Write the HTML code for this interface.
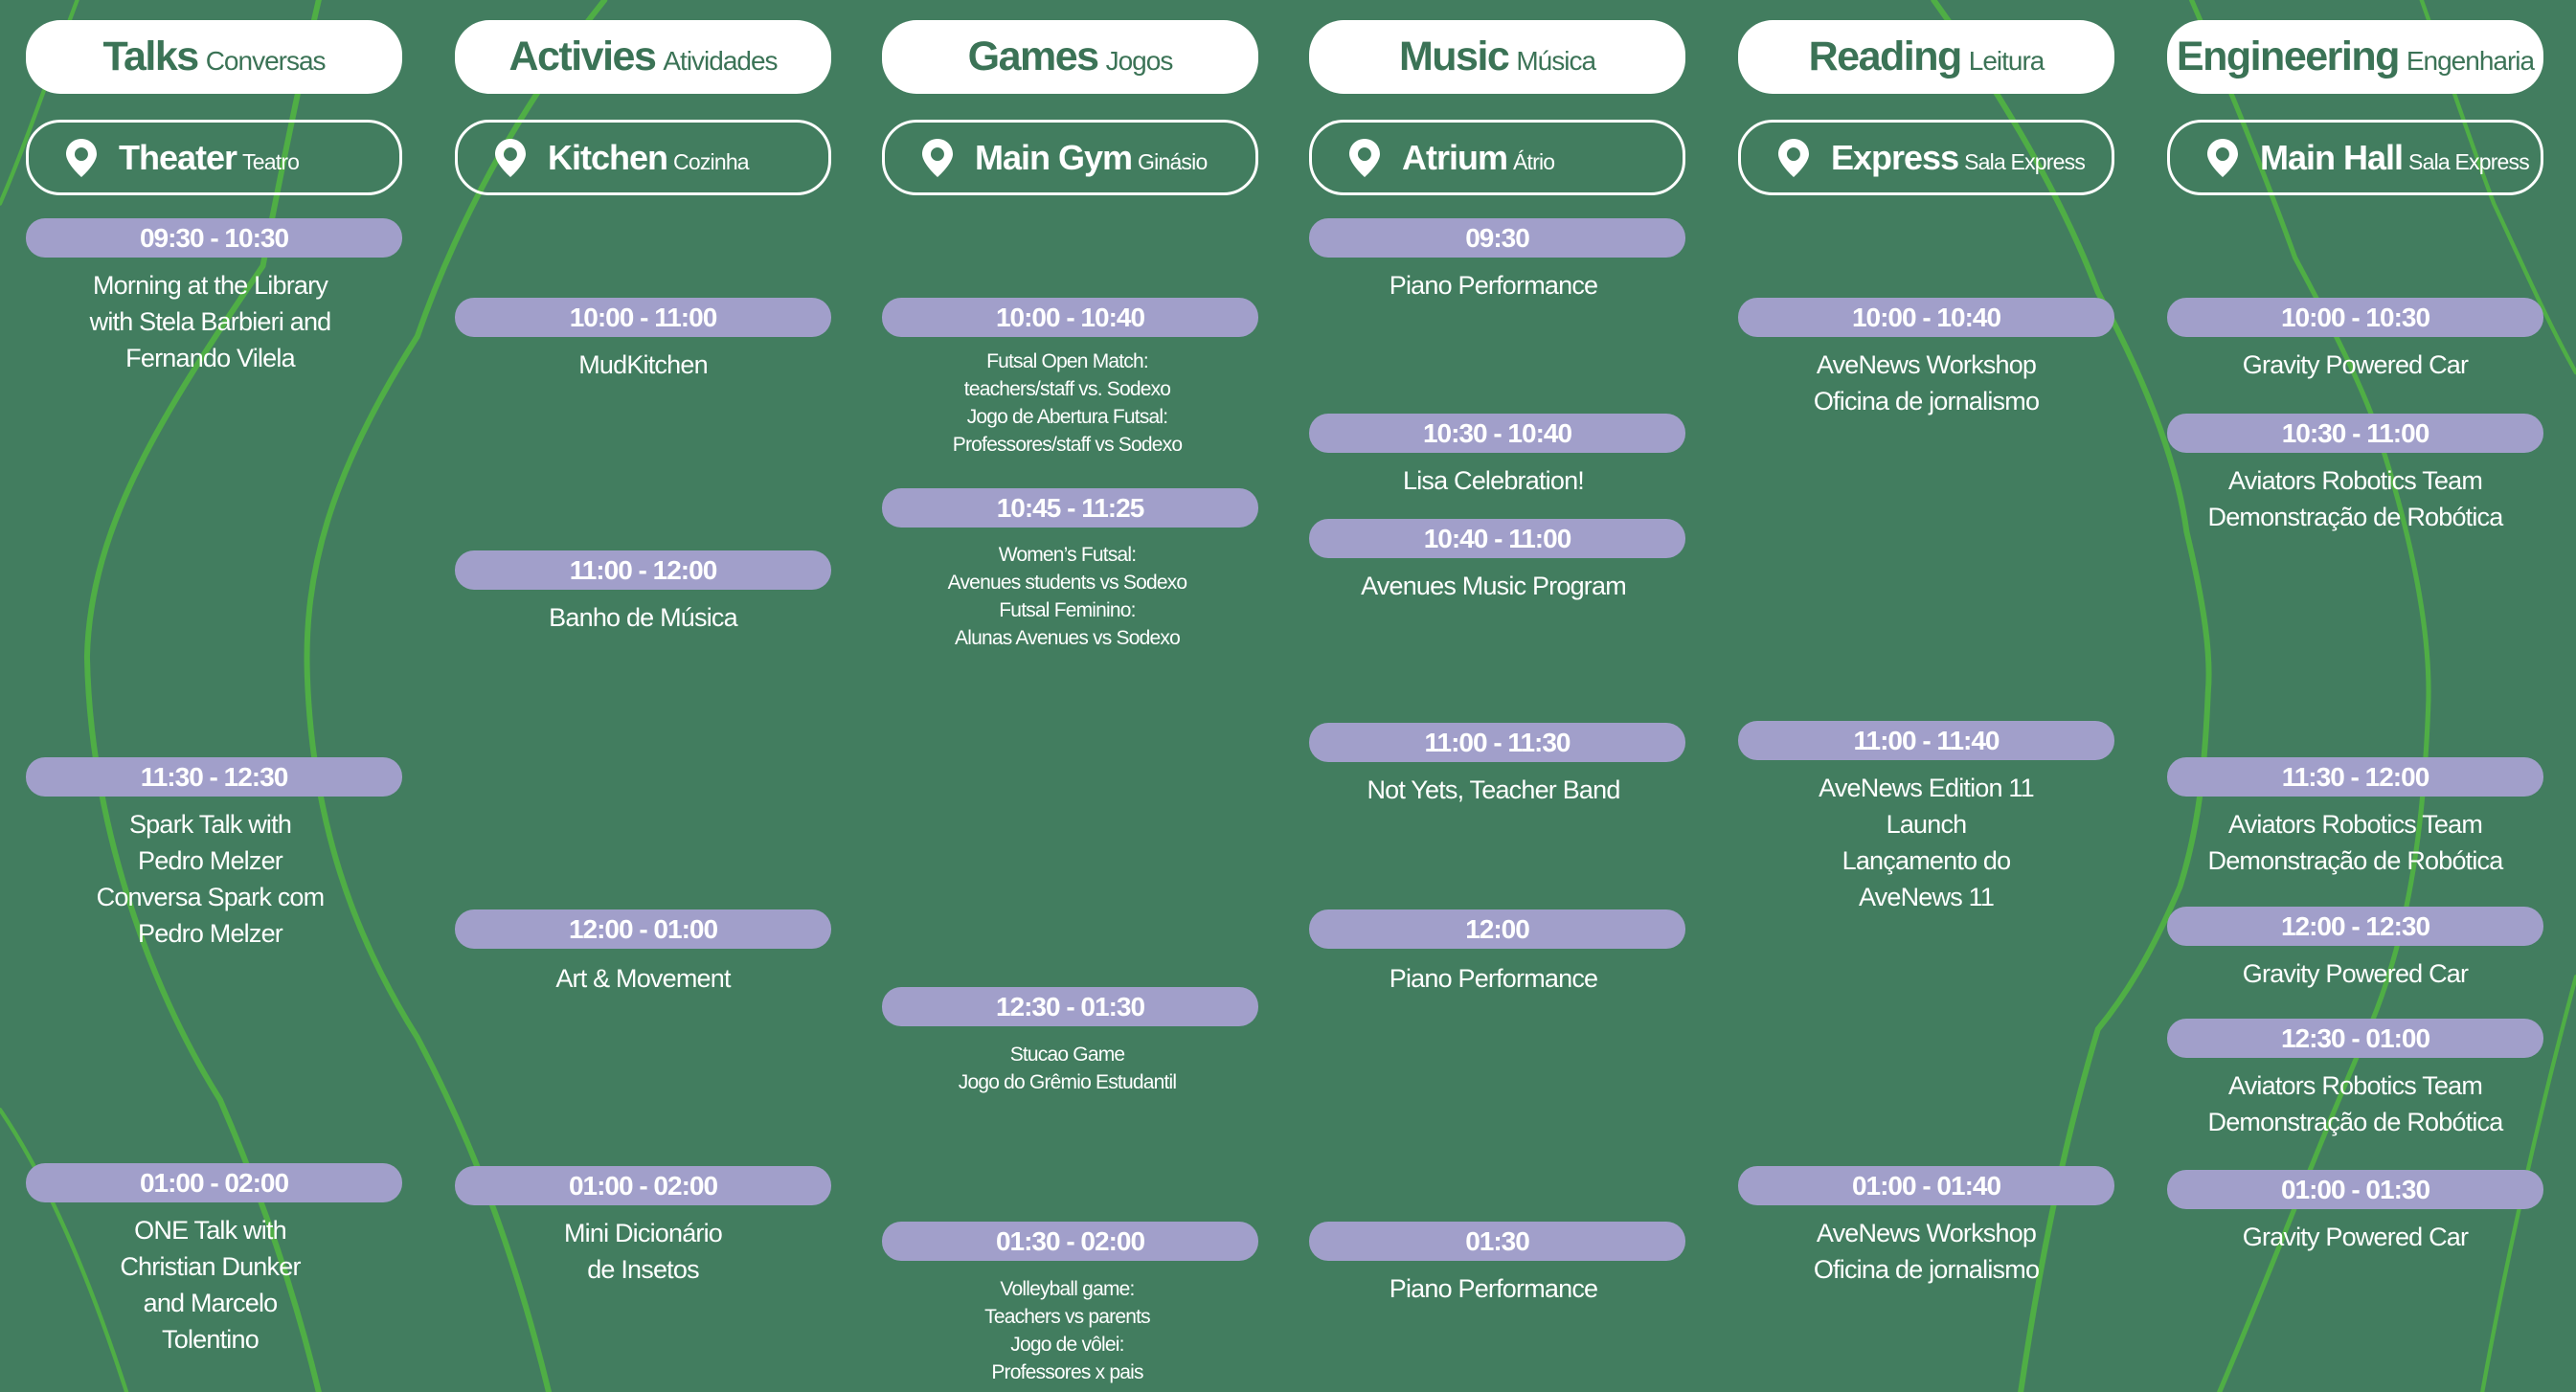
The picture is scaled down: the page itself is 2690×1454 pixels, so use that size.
<!DOCTYPE html>
<html><head><meta charset="utf-8">
<style>
html,body{margin:0;padding:0}
body{width:2690px;height:1454px;background:#427d5f;position:relative;overflow:hidden;font-family:"Liberation Sans",sans-serif}
svg.bg{position:absolute;left:0;top:0}
.h{position:absolute;top:21px;width:393px;height:77px;background:#fff;border-radius:36px;text-align:center;line-height:77px;color:#3b7356;white-space:nowrap}
.h b{font-size:43px;letter-spacing:-1.5px}
.h span{font-size:28px;letter-spacing:-1px;margin-left:8px}
.l{position:absolute;top:125px;width:387px;height:73px;border:3px solid #fff;border-radius:36px;line-height:73px;color:#fff;white-space:nowrap;box-sizing:content-box}
.l svg{position:absolute;left:38px;top:16px}
.l .t{position:absolute;left:94px;top:0}
.l b{font-size:36px;letter-spacing:-1px}
.l span{font-size:23px;letter-spacing:-0.8px;margin-left:6px}
.p{position:absolute;width:393px;height:41px;background:#a19fca;border-radius:20px;color:#fff;font-weight:bold;font-size:28px;line-height:41px;text-align:center;letter-spacing:-1px}
.d{position:absolute;width:393px;text-align:center;color:#fff;font-size:27px;line-height:38px;letter-spacing:-0.8px}
.s{position:absolute;width:393px;text-align:center;color:#fff;font-size:21px;line-height:29px;letter-spacing:-0.8px}
</style></head><body>
<svg class="bg" width="2690" height="1454" viewBox="0 0 1568 848" preserveAspectRatio="none">
<g fill="none" stroke="#4fae45" stroke-width="3.5" stroke-linecap="round">
<path d="M368,0 C320,60 280,130 254,205 C200,290 185,350 187,411 C190,500 215,570 254,632 C290,700 315,770 334,848"/>
<path d="M194,0 C180,60 170,110 160,162 C100,250 55,320 53,400 C55,500 90,600 134,670 C160,730 180,790 194,848"/>
<path d="M47,0 C30,45 15,90 0,124" stroke-width="2.5"/>
<path d="M0,676 C30,720 55,780 77,848" stroke-width="2.5"/>
<path d="M1177,0 C1220,60 1255,120 1277,178 C1305,230 1325,280 1331,324 C1342,370 1346,400 1344,422 C1342,470 1338,505 1327,540 C1310,580 1295,605 1277,627 C1255,700 1240,780 1230,848"/>
<path d="M1334,0 C1360,60 1380,110 1397,157 C1420,200 1435,230 1444,254 C1470,330 1480,390 1478,432 C1475,510 1465,570 1444,622 C1410,700 1380,780 1351,848" stroke-width="3"/>
<path d="M1474,0 C1490,45 1505,90 1518,124 C1535,160 1550,195 1568,227" stroke-width="2.5"/>
<path d="M1568,595 C1545,680 1525,770 1511,848" stroke-width="2.5"/>
</g></svg>

<div class="h" style="left:27px"><b>Talks</b><span>Conversas</span></div>
<div class="h" style="left:475px"><b>Activies</b><span>Atividades</span></div>
<div class="h" style="left:921px"><b>Games</b><span>Jogos</span></div>
<div class="h" style="left:1367px"><b>Music</b><span>Música</span></div>
<div class="h" style="left:1815px"><b>Reading</b><span>Leitura</span></div>
<div class="h" style="left:2263px"><b>Engineering</b><span>Engenharia</span></div>

<div class="l" style="left:27px"><svg width="34" height="42" viewBox="0 0 34 42"><path d="M17,1 C8,1 1,8 1,17 C1,27 17,41 17,41 C17,41 33,27 33,17 C33,8 26,1 17,1 Z M17,10 A7,7 0 1 1 16.9,10 Z" fill="#fff" fill-rule="evenodd"/></svg><div class="t"><b>Theater</b><span>Teatro</span></div></div>
<div class="l" style="left:475px"><svg width="34" height="42" viewBox="0 0 34 42"><path d="M17,1 C8,1 1,8 1,17 C1,27 17,41 17,41 C17,41 33,27 33,17 C33,8 26,1 17,1 Z M17,10 A7,7 0 1 1 16.9,10 Z" fill="#fff" fill-rule="evenodd"/></svg><div class="t"><b>Kitchen</b><span>Cozinha</span></div></div>
<div class="l" style="left:921px"><svg width="34" height="42" viewBox="0 0 34 42"><path d="M17,1 C8,1 1,8 1,17 C1,27 17,41 17,41 C17,41 33,27 33,17 C33,8 26,1 17,1 Z M17,10 A7,7 0 1 1 16.9,10 Z" fill="#fff" fill-rule="evenodd"/></svg><div class="t"><b>Main Gym</b><span>Ginásio</span></div></div>
<div class="l" style="left:1367px"><svg width="34" height="42" viewBox="0 0 34 42"><path d="M17,1 C8,1 1,8 1,17 C1,27 17,41 17,41 C17,41 33,27 33,17 C33,8 26,1 17,1 Z M17,10 A7,7 0 1 1 16.9,10 Z" fill="#fff" fill-rule="evenodd"/></svg><div class="t"><b>Atrium</b><span>Átrio</span></div></div>
<div class="l" style="left:1815px"><svg width="34" height="42" viewBox="0 0 34 42"><path d="M17,1 C8,1 1,8 1,17 C1,27 17,41 17,41 C17,41 33,27 33,17 C33,8 26,1 17,1 Z M17,10 A7,7 0 1 1 16.9,10 Z" fill="#fff" fill-rule="evenodd"/></svg><div class="t"><b>Express</b><span>Sala Express</span></div></div>
<div class="l" style="left:2263px"><svg width="34" height="42" viewBox="0 0 34 42"><path d="M17,1 C8,1 1,8 1,17 C1,27 17,41 17,41 C17,41 33,27 33,17 C33,8 26,1 17,1 Z M17,10 A7,7 0 1 1 16.9,10 Z" fill="#fff" fill-rule="evenodd"/></svg><div class="t"><b>Main Hall</b><span>Sala Express</span></div></div>

<div class="p" style="left:27px;top:228px">09:30 - 10:30</div>
<div class="d" style="left:23px;top:279px">Morning at the Library<br>with Stela Barbieri and<br>Fernando Vilela</div>
<div class="p" style="left:27px;top:791px">11:30 - 12:30</div>
<div class="d" style="left:23px;top:842px">Spark Talk with<br>Pedro Melzer<br>Conversa Spark com<br>Pedro Melzer</div>
<div class="p" style="left:27px;top:1215px">01:00 - 02:00</div>
<div class="d" style="left:23px;top:1266px">ONE Talk with<br>Christian Dunker<br>and Marcelo<br>Tolentino</div>

<div class="p" style="left:475px;top:311px">10:00 - 11:00</div>
<div class="d" style="left:475px;top:362px">MudKitchen</div>
<div class="p" style="left:475px;top:575px">11:00 - 12:00</div>
<div class="d" style="left:475px;top:626px">Banho de Música</div>
<div class="p" style="left:475px;top:950px">12:00 - 01:00</div>
<div class="d" style="left:475px;top:1003px">Art &amp; Movement</div>
<div class="p" style="left:475px;top:1218px">01:00 - 02:00</div>
<div class="d" style="left:475px;top:1269px">Mini Dicionário<br>de Insetos</div>

<div class="p" style="left:921px;top:311px">10:00 - 10:40</div>
<div class="s" style="left:918px;top:363px">Futsal Open Match:<br>teachers/staff vs. Sodexo<br>Jogo de Abertura Futsal:<br>Professores/staff vs Sodexo</div>
<div class="p" style="left:921px;top:510px">10:45 - 11:25</div>
<div class="s" style="left:918px;top:565px">Women’s Futsal:<br>Avenues students vs Sodexo<br>Futsal Feminino:<br>Alunas Avenues vs Sodexo</div>
<div class="p" style="left:921px;top:1031px">12:30 - 01:30</div>
<div class="s" style="left:918px;top:1087px">Stucao Game<br>Jogo do Grêmio Estudantil</div>
<div class="p" style="left:921px;top:1276px">01:30 - 02:00</div>
<div class="s" style="left:918px;top:1332px">Volleyball game:<br>Teachers vs parents<br>Jogo de vôlei:<br>Professores x pais</div>

<div class="p" style="left:1367px;top:228px">09:30</div>
<div class="d" style="left:1363px;top:279px">Piano Performance</div>
<div class="p" style="left:1367px;top:432px">10:30 - 10:40</div>
<div class="d" style="left:1363px;top:483px">Lisa Celebration!</div>
<div class="p" style="left:1367px;top:542px">10:40 - 11:00</div>
<div class="d" style="left:1363px;top:593px">Avenues Music Program</div>
<div class="p" style="left:1367px;top:755px">11:00 - 11:30</div>
<div class="d" style="left:1363px;top:806px">Not Yets, Teacher Band</div>
<div class="p" style="left:1367px;top:950px">12:00</div>
<div class="d" style="left:1363px;top:1003px">Piano Performance</div>
<div class="p" style="left:1367px;top:1276px">01:30</div>
<div class="d" style="left:1363px;top:1327px">Piano Performance</div>

<div class="p" style="left:1815px;top:311px">10:00 - 10:40</div>
<div class="d" style="left:1815px;top:362px">AveNews Workshop<br>Oficina de jornalismo</div>
<div class="p" style="left:1815px;top:753px">11:00 - 11:40</div>
<div class="d" style="left:1815px;top:804px">AveNews Edition 11<br>Launch<br>Lançamento do<br>AveNews 11</div>
<div class="p" style="left:1815px;top:1218px">01:00 - 01:40</div>
<div class="d" style="left:1815px;top:1269px">AveNews Workshop<br>Oficina de jornalismo</div>

<div class="p" style="left:2263px;top:311px">10:00 - 10:30</div>
<div class="d" style="left:2263px;top:362px">Gravity Powered Car</div>
<div class="p" style="left:2263px;top:432px">10:30 - 11:00</div>
<div class="d" style="left:2263px;top:483px">Aviators Robotics Team<br>Demonstração de Robótica</div>
<div class="p" style="left:2263px;top:791px">11:30 - 12:00</div>
<div class="d" style="left:2263px;top:842px">Aviators Robotics Team<br>Demonstração de Robótica</div>
<div class="p" style="left:2263px;top:947px">12:00 - 12:30</div>
<div class="d" style="left:2263px;top:998px">Gravity Powered Car</div>
<div class="p" style="left:2263px;top:1064px">12:30 - 01:00</div>
<div class="d" style="left:2263px;top:1115px">Aviators Robotics Team<br>Demonstração de Robótica</div>
<div class="p" style="left:2263px;top:1222px">01:00 - 01:30</div>
<div class="d" style="left:2263px;top:1273px">Gravity Powered Car</div>
</body></html>
